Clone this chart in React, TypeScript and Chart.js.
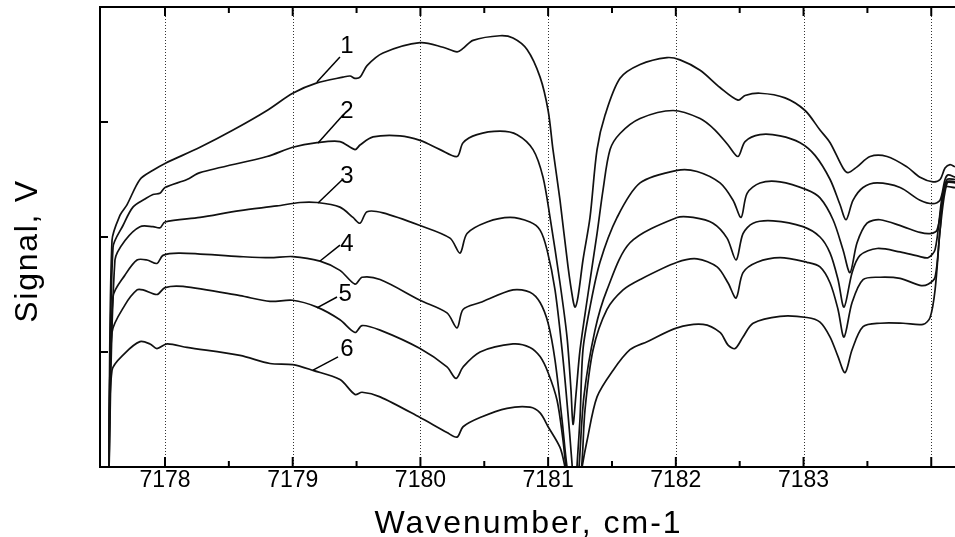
import React, { useEffect, useRef } from 'react';
import { Chart, registerables } from 'chart.js';

Chart.register(...registerables);

const FONT = '"Liberation Sans", Arial, Helvetica, sans-serif';

// Axis ranges (wavenumber, cm-1 ; signal, arbitrary V units)
const X_MIN = 7177.491;
const X_MAX = 7184.186;
const Y_MIN = 0;
const Y_MAX = 4;

const tickValues = [7178, 7179, 7180, 7181, 7182, 7183];
const gridValues = [7178, 7179, 7180, 7181, 7182, 7183, 7184];
const minorValues = [7178.5, 7179.5, 7180.5, 7181.5, 7182.5, 7183.5];
const yTickValues = [1, 2, 3];

// Spectra: [wavenumber, signal]
const curve1: [number, number][] = [
  [7177.56, -0.1], [7177.585, 1.97], [7177.648, 2.19], [7177.702, 2.28], [7177.804, 2.5], [7177.906, 2.58],
  [7178.0, 2.64], [7178.274, 2.78], [7178.533, 2.93], [7178.799, 3.1], [7179.0, 3.25], [7179.19, 3.34],
  [7179.394, 3.39], [7179.449, 3.4], [7179.488, 3.38], [7179.527, 3.39], [7179.582, 3.49], [7179.707, 3.6],
  [7179.997, 3.69], [7180.177, 3.65], [7180.287, 3.61], [7180.334, 3.64], [7180.412, 3.71], [7180.623, 3.75],
  [7180.725, 3.73], [7180.835, 3.63], [7180.937, 3.39], [7181.0, 3.1], [7181.038, 2.76], [7181.093, 2.32],
  [7181.156, 1.74], [7181.195, 1.45], [7181.211, 1.39], [7181.234, 1.48], [7181.273, 1.8], [7181.328, 2.17],
  [7181.383, 2.76], [7181.446, 3.06], [7181.563, 3.38], [7181.72, 3.5], [7181.931, 3.56], [7182.033, 3.54],
  [7182.19, 3.45], [7182.346, 3.3], [7182.487, 3.19], [7182.542, 3.23], [7182.659, 3.25], [7182.855, 3.21],
  [7183.012, 3.1], [7183.129, 2.93], [7183.208, 2.82], [7183.309, 2.6], [7183.349, 2.56], [7183.419, 2.61],
  [7183.521, 2.7], [7183.654, 2.7], [7183.81, 2.61], [7183.912, 2.52], [7184.014, 2.48], [7184.069, 2.5],
  [7184.108, 2.6], [7184.147, 2.63], [7184.186, 2.61],
];

const curve2: [number, number][] = [
  [7177.56, -0.1], [7177.593, 1.91], [7177.671, 2.1], [7177.749, 2.26], [7177.843, 2.33], [7177.906, 2.37],
  [7177.96, 2.38], [7178.0, 2.43], [7178.172, 2.5], [7178.274, 2.56], [7178.799, 2.7], [7179.0, 2.78],
  [7179.19, 2.82], [7179.37, 2.83], [7179.488, 2.76], [7179.527, 2.8], [7179.629, 2.87], [7179.84, 2.88],
  [7179.997, 2.84], [7180.154, 2.76], [7180.287, 2.7], [7180.334, 2.82], [7180.443, 2.89], [7180.623, 2.92],
  [7180.757, 2.89], [7180.882, 2.76], [7180.96, 2.52], [7181.015, 2.17], [7181.093, 1.6], [7181.148, 1.13],
  [7181.179, 0.67], [7181.195, 0.37], [7181.218, 0.63], [7181.25, 1.02], [7181.305, 1.45], [7181.383, 2.03],
  [7181.43, 2.41], [7181.485, 2.76], [7181.563, 2.9], [7181.72, 3.03], [7181.978, 3.1], [7182.19, 3.03],
  [7182.307, 2.93], [7182.409, 2.8], [7182.487, 2.7], [7182.542, 2.83], [7182.659, 2.89], [7182.816, 2.88],
  [7182.973, 2.82], [7183.09, 2.71], [7183.208, 2.5], [7183.286, 2.28], [7183.333, 2.15], [7183.388, 2.32],
  [7183.466, 2.43], [7183.576, 2.47], [7183.756, 2.43], [7183.912, 2.32], [7184.014, 2.29], [7184.069, 2.32],
  [7184.108, 2.5], [7184.132, 2.54], [7184.186, 2.52],
];

const curve3: [number, number][] = [
  [7177.56, -0.1], [7177.608, 1.8], [7177.687, 1.97], [7177.804, 2.09], [7177.906, 2.09], [7177.961, 2.08],
  [7178.0, 2.13], [7178.274, 2.17], [7178.587, 2.23], [7178.877, 2.27], [7179.057, 2.3], [7179.19, 2.3],
  [7179.37, 2.26], [7179.472, 2.17], [7179.527, 2.12], [7179.582, 2.22], [7179.707, 2.21], [7179.997, 2.1],
  [7180.232, 1.99], [7180.31, 1.86], [7180.365, 2.03], [7180.522, 2.13], [7180.702, 2.17], [7180.858, 2.13],
  [7180.937, 2.06], [7180.991, 1.89], [7181.054, 1.54], [7181.109, 1.02], [7181.148, 0.56], [7181.187, 0.03],
  [7181.21, -0.4], [7181.226, 0.0], [7181.25, 0.43], [7181.273, 1.02], [7181.328, 1.39], [7181.406, 1.78],
  [7181.54, 2.17], [7181.72, 2.47], [7182.01, 2.58], [7182.166, 2.57], [7182.346, 2.47], [7182.448, 2.32],
  [7182.511, 2.17], [7182.558, 2.38], [7182.659, 2.47], [7182.816, 2.48], [7183.027, 2.41], [7183.129, 2.34],
  [7183.231, 2.15], [7183.309, 1.89], [7183.364, 1.69], [7183.419, 1.95], [7183.497, 2.12], [7183.599, 2.15],
  [7183.779, 2.09], [7183.912, 2.04], [7183.991, 2.03], [7184.045, 2.06], [7184.085, 2.3], [7184.124, 2.48],
  [7184.186, 2.48],
];

const curve4: [number, number][] = [
  [7177.56, -0.1], [7177.593, 1.48], [7177.687, 1.67], [7177.781, 1.8], [7177.859, 1.8], [7177.937, 1.77],
  [7177.984, 1.84], [7178.117, 1.86], [7178.587, 1.83], [7178.822, 1.82], [7179.0, 1.83], [7179.214, 1.79],
  [7179.37, 1.71], [7179.488, 1.59], [7179.543, 1.65], [7179.684, 1.63], [7179.997, 1.45], [7180.208, 1.34],
  [7180.287, 1.21], [7180.334, 1.37], [7180.467, 1.43], [7180.725, 1.54], [7180.858, 1.52], [7180.937, 1.43],
  [7181.0, 1.25], [7181.054, 0.93], [7181.109, 0.41], [7181.148, 0.0], [7181.21, -0.4], [7181.242, 0.0],
  [7181.281, 0.62], [7181.367, 1.19], [7181.461, 1.54], [7181.641, 1.95], [7182.01, 2.17], [7182.135, 2.17],
  [7182.291, 2.12], [7182.401, 1.99], [7182.472, 1.8], [7182.526, 2.03], [7182.605, 2.12], [7182.761, 2.14],
  [7182.996, 2.09], [7183.129, 2.0], [7183.208, 1.86], [7183.27, 1.63], [7183.317, 1.39], [7183.38, 1.69],
  [7183.442, 1.84], [7183.576, 1.9], [7183.756, 1.87], [7183.912, 1.83], [7183.975, 1.82], [7184.03, 1.89],
  [7184.085, 2.35], [7184.124, 2.5], [7184.186, 2.5],
];

const curve5: [number, number][] = [
  [7177.56, -0.1], [7177.585, 1.17], [7177.687, 1.41], [7177.781, 1.54], [7177.828, 1.54], [7177.937, 1.5],
  [7178.0, 1.56], [7178.141, 1.57], [7178.587, 1.49], [7178.822, 1.44], [7179.0, 1.45], [7179.19, 1.39],
  [7179.37, 1.28], [7179.488, 1.17], [7179.543, 1.23], [7179.684, 1.19], [7179.997, 1.03], [7180.208, 0.87],
  [7180.279, 0.77], [7180.334, 0.87], [7180.467, 1.0], [7180.725, 1.07], [7180.858, 1.04], [7180.937, 0.96],
  [7181.0, 0.82], [7181.07, 0.58], [7181.117, 0.23], [7181.14, 0.0], [7181.21, -0.4], [7181.262, 0.0],
  [7181.289, 0.5], [7181.352, 1.02], [7181.461, 1.37], [7181.587, 1.54], [7181.72, 1.63], [7182.01, 1.78],
  [7182.166, 1.81], [7182.323, 1.74], [7182.409, 1.6], [7182.472, 1.47], [7182.526, 1.69], [7182.636, 1.78],
  [7182.816, 1.82], [7183.027, 1.78], [7183.129, 1.74], [7183.208, 1.6], [7183.27, 1.37], [7183.317, 1.13],
  [7183.38, 1.43], [7183.466, 1.63], [7183.599, 1.65], [7183.756, 1.64], [7183.912, 1.58], [7183.975, 1.59],
  [7184.03, 1.65], [7184.069, 2.06], [7184.124, 2.47], [7184.186, 2.47],
];

const curve6: [number, number][] = [
  [7177.56, -0.1], [7177.585, 0.84], [7177.687, 0.99], [7177.804, 1.09], [7177.883, 1.07], [7177.937, 1.03],
  [7178.016, 1.07], [7178.172, 1.04], [7178.587, 0.97], [7178.822, 0.9], [7179.0, 0.89], [7179.159, 0.84],
  [7179.37, 0.76], [7179.488, 0.63], [7179.543, 0.65], [7179.684, 0.61], [7179.997, 0.43], [7180.208, 0.3],
  [7180.287, 0.26], [7180.334, 0.35], [7180.467, 0.43], [7180.678, 0.51], [7180.858, 0.52], [7180.937, 0.47],
  [7181.0, 0.35], [7181.093, 0.17], [7181.132, 0.0], [7181.21, -0.4], [7181.266, 0.0], [7181.305, 0.23],
  [7181.383, 0.61], [7181.508, 0.84], [7181.641, 1.02], [7181.775, 1.09], [7182.01, 1.21], [7182.213, 1.24],
  [7182.346, 1.17], [7182.409, 1.06], [7182.464, 1.03], [7182.526, 1.13], [7182.605, 1.25], [7182.816, 1.31],
  [7183.027, 1.3], [7183.129, 1.26], [7183.208, 1.13], [7183.27, 0.96], [7183.325, 0.82], [7183.38, 1.02],
  [7183.466, 1.22], [7183.599, 1.25], [7183.779, 1.25], [7183.936, 1.24], [7183.991, 1.3], [7184.03, 1.54],
  [7184.069, 2.06], [7184.108, 2.43], [7184.186, 2.43],
];

const curves = [curve1, curve2, curve3, curve4, curve5, curve6];

// Curve number labels with leader lines (data coordinates)
const labelTexts = ['1', '2', '3', '4', '5', '6'];
const leaderStartX = [7179.19, 7179.198, 7179.198, 7179.214, 7179.19, 7179.159];
const leaderStartY = [3.348, 2.817, 2.296, 1.791, 1.383, 0.843];
const leaderEndX = [7179.37, 7179.394, 7179.386, 7179.37, 7179.347, 7179.355];
const leaderEndY = [3.565, 3.061, 2.496, 1.93, 1.478, 0.957];
const labelX = [7179.425, 7179.425, 7179.425, 7179.425, 7179.41, 7179.425];
const labelY = [3.67, 3.104, 2.539, 1.948, 1.513, 1.035];

const xTitle = 'Wavenumber, cm-1';
const yTitle = 'Signal, V';

const decorPlugin = {
  id: 'decor',
  beforeDatasetsDraw(chart: any) {
    const { ctx, chartArea: a } = chart;
    const xs = chart.scales.x;
    ctx.save();
    ctx.strokeStyle = '#333';
    ctx.lineWidth = 1;
    ctx.setLineDash([1, 2]);
    for (const v of gridValues) {
      const px = Math.round(xs.getPixelForValue(v)) + 0.5;
      ctx.beginPath();
      ctx.moveTo(px, a.top);
      ctx.lineTo(px, a.bottom);
      ctx.stroke();
    }
    ctx.restore();
  },
  afterDatasetsDraw(chart: any) {
    const { ctx, chartArea: a } = chart;
    const xs = chart.scales.x;
    const ys = chart.scales.y;
    ctx.save();
    // frame (left, top, bottom)
    ctx.strokeStyle = '#000';
    ctx.lineWidth = 2;
    ctx.beginPath();
    ctx.moveTo(a.right + 4, a.top);
    ctx.lineTo(a.left, a.top);
    ctx.lineTo(a.left, a.bottom);
    ctx.lineTo(a.right + 4, a.bottom);
    ctx.stroke();
    // inward ticks
    ctx.lineWidth = 2;
    const tick = (x1: number, y1: number, x2: number, y2: number) => {
      ctx.beginPath();
      ctx.moveTo(x1, y1);
      ctx.lineTo(x2, y2);
      ctx.stroke();
    };
    for (const v of gridValues) {
      const px = xs.getPixelForValue(v);
      tick(px, a.bottom, px, a.bottom - 10);
      tick(px, a.top, px, a.top + 9);
    }
    for (const v of minorValues) {
      const px = xs.getPixelForValue(v);
      tick(px, a.bottom, px, a.bottom - 6);
      tick(px, a.top, px, a.top + 6);
    }
    for (const v of yTickValues) {
      const py = ys.getPixelForValue(v);
      tick(a.left, py, a.left + 8, py);
    }
    // curve labels and leaders
    ctx.lineWidth = 1.5;
    ctx.fillStyle = '#000';
    ctx.font = `24px ${FONT}`;
    ctx.textAlign = 'center';
    ctx.textBaseline = 'middle';
    labelTexts.forEach((t, i) => {
      tick(
        xs.getPixelForValue(leaderStartX[i]), ys.getPixelForValue(leaderStartY[i]),
        xs.getPixelForValue(leaderEndX[i]), ys.getPixelForValue(leaderEndY[i])
      );
      ctx.fillText(t, xs.getPixelForValue(labelX[i]), ys.getPixelForValue(labelY[i]) + 1);
    });
    // axis titles
    ctx.font = `32px ${FONT}`;
    ctx.textBaseline = 'alphabetic';
    (ctx as any).letterSpacing = '2px';
    ctx.fillText(xTitle, (a.left + 955) / 2 + 1, 533);
    (ctx as any).letterSpacing = '1.7px';
    ctx.translate(37, (a.top + a.bottom) / 2 + 14);
    ctx.rotate(-Math.PI / 2);
    ctx.fillText(yTitle, 0, 0);
    ctx.restore();
  },
};

export default function App() {
  const canvasRef = useRef<HTMLCanvasElement | null>(null);

  useEffect(() => {
    document.body.style.margin = '0';
    const canvas = canvasRef.current;
    if (!canvas) return;
    const chart = new Chart(canvas, {
      type: 'line',
      data: {
        datasets: curves.map((c, i) => ({
          label: labelTexts[i],
          data: c.map(([x, y]) => ({ x, y })),
          borderColor: '#111',
          borderWidth: 1.7,
          pointRadius: 0,
          fill: false,
          tension: 0.3,
        })),
      },
      options: {
        responsive: false,
        animation: false,
        devicePixelRatio: 1,
        layout: { padding: { left: 100, top: 7, right: 0, bottom: 0 } },
        plugins: { legend: { display: false }, tooltip: { enabled: false } },
        events: [],
        scales: {
          x: {
            type: 'linear',
            min: X_MIN,
            max: X_MAX,
            afterBuildTicks: (s: any) => {
              s.ticks = tickValues.map((v) => ({ value: v }));
            },
            afterFit: (s: any) => {
              s.height = 70;
            },
            grid: { display: false, drawTicks: false },
            border: { display: false },
            ticks: {
              color: '#000',
              font: { family: FONT, size: 23 },
              padding: 0,
              maxRotation: 0,
              autoSkip: false,
              callback: (v: any) => String(v),
            },
          },
          y: {
            type: 'linear',
            min: Y_MIN,
            max: Y_MAX,
            display: false,
          },
        },
      },
      plugins: [decorPlugin],
    });
    return () => chart.destroy();
  }, []);

  return <canvas ref={canvasRef} width={955} height={537} style={{ display: 'block' }} />;
}
